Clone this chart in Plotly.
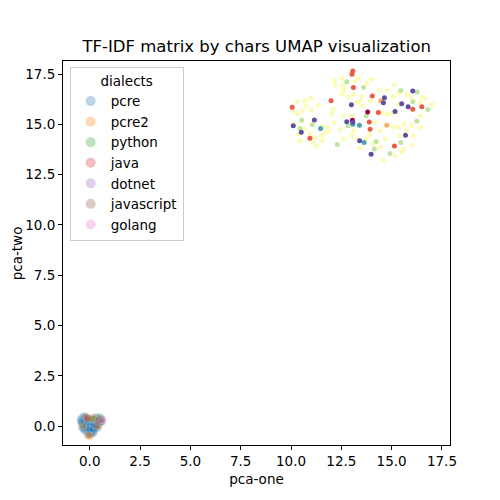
import plotly.graph_objects as go

# ---------------- data ----------------
dialects = ["pcre", "pcre2", "python", "java", "dotnet", "javascript", "golang"]
dialect_colors = ["#1f77b4", "#ff7f0e", "#2ca02c", "#d62728", "#9467bd", "#8c564b", "#e377c2"]

# lower cluster (per dialect)
pcre_x = [-0.45, -0.35, -0.25, -0.4, -0.3, -0.2, -0.15, -0.35, -0.25, -0.4, -0.3, -0.2, -0.1,
          0.0, 0.05, 0.1, 0.0, -0.1, 0.0, 0.1, 0.2, 0.15, 0.25, 0.3, 0.05, -0.05, 0.2,
          0.3, 0.4, 0.35, 0.45, 0.5, 0.55, 0.6, 0.2, 0.1, 0.4, 0.15,
          -0.2, -0.05, 0.05, 0.1, -0.15, 0.3, 0.25, -0.3, 0.0, -0.1,
          -0.4, -0.3, -0.2, -0.1, 0.0, 0.1, 0.2, -0.25, -0.15, -0.05, 0.05, 0.15,
          -0.35, -0.25, -0.1, 0.0, 0.1, -0.2, -0.05, 0.05, 0.15, 0.25, -0.1, 0.0,
          0.35, 0.45, 0.3, -0.3, -0.45, 0.05, -0.15, 0.2]
pcre_y = [0.35, 0.45, 0.5, 0.2, 0.3, 0.35, 0.2, 0.1, 0.0, -0.05, -0.15, -0.1, 0.05,
          0.3, 0.15, 0.0, -0.1, -0.25, -0.3, -0.2, -0.1, 0.1, 0.05, -0.05, -0.4, -0.35, -0.3,
          0.3, 0.4, 0.2, 0.1, 0.3, 0.2, 0.35, 0.25, 0.4, -0.1, -0.35,
          0.45, 0.1, -0.05, 0.2, -0.2, 0.15, -0.2, 0.4, 0.0, 0.3,
          0.15, 0.05, -0.05, -0.15, -0.2, -0.3, -0.2, 0.25, 0.1, 0.2, 0.05, -0.05,
          -0.1, -0.25, -0.3, -0.4, -0.35, 0.0, -0.15, -0.25, -0.15, -0.1, -0.45, -0.2,
          0.05, 0.2, 0.45, 0.2, 0.25, 0.35, 0.35, 0.1]
pcre2_x = [-0.2, 0.1, -0.35, 0.25, -0.05, 0.0, 0.45]
pcre2_y = [0.45, 0.35, 0.0, 0.4, -0.45, -0.5, 0.0]
python_x = [0.2, 0.5]
python_y = [0.35, 0.45]
java_x = [-0.1]
java_y = [0.4]
dotnet_x = [0.4]
dotnet_y = [0.25]
javascript_x = [0.55, 0.45, 0.6, 0.35]
javascript_y = [0.35, 0.3, 0.2, 0.0]
golang_x = [0.65]
golang_y = [0.3]

lower_x = [pcre_x, pcre2_x, python_x, java_x, dotnet_x, javascript_x, golang_x]
lower_y = [pcre_y, pcre2_y, python_y, java_y, dotnet_y, javascript_y, golang_y]

# upper cluster (by colour group)
yellow_x = [12.15, 12.52, 13.36, 13.76, 12.19, 12.60, 13.18, 12.63, 12.52, 12.85, 13.10, 13.51,
            13.26, 13.43, 13.93, 14.39, 14.79, 15.14, 15.09, 15.35, 15.75, 15.95, 16.50, 16.66,
            16.99, 16.42, 15.37, 16.08, 10.30, 10.69, 10.98, 11.36, 10.11, 10.36, 10.58, 10.78,
            11.03, 12.02, 12.10, 12.60, 13.02, 13.56, 14.18, 14.48, 14.76, 15.01, 15.09, 15.34,
            15.62, 16.00, 16.42, 15.75, 16.08, 14.43, 13.89, 13.73, 14.67, 13.10, 12.44, 12.14,
            11.69, 11.85, 11.52, 11.19, 11.11, 11.27, 11.57, 10.36, 10.20, 10.45, 12.60, 13.02,
            13.30, 13.43, 14.06, 14.43, 14.59, 15.17, 15.59, 15.50, 15.39, 16.00, 16.42, 11.57,
            11.85, 10.69, 10.94, 14.01]
yellow_y = [17.16, 17.29, 17.32, 17.03, 16.96, 16.94, 17.16, 16.70, 16.50, 16.36, 16.50, 16.41,
            16.08, 16.17, 16.17, 16.70, 16.71, 16.96, 16.38, 16.56, 16.50, 16.36, 16.36, 16.30,
            16.00, 16.08, 16.00, 16.17, 16.12, 16.17, 16.30, 15.95, 15.67, 15.51, 15.70, 15.92,
            15.70, 15.55, 15.75, 15.42, 15.45, 15.92, 15.09, 15.55, 15.50, 15.59, 14.88, 14.84,
            15.01, 14.93, 14.84, 14.68, 14.43, 14.68, 14.48, 14.27, 14.27, 14.68, 14.76, 15.09,
            14.60, 14.65, 14.43, 14.35, 14.10, 13.93, 14.18, 14.51, 15.01, 14.18, 14.27, 14.43,
            14.27, 13.85, 14.02, 13.85, 13.22, 13.44, 13.77, 13.65, 14.43, 13.98, 15.42, 14.91,
            14.84, 14.76, 14.55, 17.24]
green_x = [12.77, 13.60, 15.45, 16.27, 16.05, 16.80, 10.53, 11.06, 10.45, 12.83, 13.73, 16.25,
           14.23, 15.45, 12.30, 14.14, 14.92]
green_y = [17.12, 16.83, 16.68, 16.61, 16.13, 15.74, 15.21, 14.98, 14.79, 14.93, 15.42, 15.16,
           14.15, 14.10, 14.00, 13.77, 13.55]
teal_x = [11.47, 13.07, 13.40, 13.63]
teal_y = [14.79, 15.00, 14.96, 14.10]
orange_x = [14.46, 14.76]
orange_y = [16.17, 14.96]
red_x = [13.07, 13.03, 10.06, 11.99, 13.10, 14.04, 14.34, 13.89, 13.93, 10.94, 15.14, 16.05, 16.50]
red_y = [17.65, 17.49, 15.85, 16.17, 16.83, 16.41, 15.59, 15.12, 14.76, 14.31, 13.93, 15.75, 15.87]
darkred_x = [13.81, 13.05]
darkred_y = [15.62, 15.20]
purple_x = [13.00, 14.64, 14.59, 15.17, 15.50, 15.82, 16.05, 11.16, 12.77, 13.07, 10.11, 10.51,
            13.41, 15.69, 13.98]
purple_y = [15.97, 16.32, 16.08, 15.64, 16.03, 15.87, 16.66, 15.22, 15.13, 15.10, 14.93, 14.61,
            14.18, 14.46, 13.52]

upper_groups = [
    (yellow_x, yellow_y, "#fcfcb9"),
    (green_x, green_y, "#c0e5a0"),
    (teal_x, teal_y, "#4aa5b1"),
    (orange_x, orange_y, "#fbac60"),
    (red_x, red_y, "#e95c47"),
    (darkred_x, darkred_y, "#9e0142"),
    (purple_x, purple_y, "#5e4fa2"),
]

x_ticks = [0.0, 2.5, 5.0, 7.5, 10.0, 12.5, 15.0, 17.5]
y_ticks = [0.0, 2.5, 5.0, 7.5, 10.0, 12.5, 15.0, 17.5]

# ---------------- figure ----------------
FONT = "DejaVu Sans"
fig = go.Figure()

for name, col, xs, ys in zip(dialects, dialect_colors, lower_x, lower_y):
    fig.add_trace(go.Scatter(
        x=xs, y=ys, mode="markers", name=name,
        marker=dict(size=8, color=col, opacity=0.3, line=dict(color="white", width=0.5)),
    ))

for xs, ys, col in upper_groups:
    fig.add_trace(go.Scatter(
        x=xs, y=ys, mode="markers", showlegend=False,
        marker=dict(size=5, color=col, line=dict(width=0)),
    ))

axis_common = dict(
    showline=True, mirror=True, linecolor="black", linewidth=1,
    ticks="outside", ticklen=4, tickwidth=1, tickcolor="black",
    showgrid=False, zeroline=False, automargin=False,
    tickfont=dict(family=FONT, size=13.5, color="black"),
    tickformat=".1f",
)

# the page body adds an 8px offset, so the figure is 492px and shifted margins
fig.update_layout(
    width=492, height=492,
    paper_bgcolor="white", plot_bgcolor="white",
    margin=dict(l=55, r=50, t=53, b=55, autoexpand=False),
    title=dict(text="TF-IDF matrix by chars UMAP visualization",
               x=0.5055, xanchor="center", y=0.9228, yanchor="middle",
               font=dict(family=FONT, size=16.5, color="black")),
    xaxis=dict(axis_common, range=[-1.33, 17.9], tickvals=x_ticks,
               title=dict(text="pca-one", standoff=6,
                          font=dict(family=FONT, size=13.5, color="black"))),
    yaxis=dict(axis_common, range=[-0.94, 18.15], tickvals=y_ticks),
    annotations=[dict(
        text="pca-two", xref="paper", yref="paper", x=-0.118, y=0.5,
        xanchor="center", yanchor="middle", textangle=-90, showarrow=False,
        borderpad=0,
        font=dict(family=FONT, size=13.5, color="black"),
    )],
    legend=dict(
        x=0.0173, y=0.9836, xanchor="left", yanchor="top",
        bgcolor="rgba(255,255,255,0.8)", bordercolor="#cccccc", borderwidth=1,
        font=dict(family=FONT, size=13.5, color="black"),
        title=dict(text="dialects", side="top center",
                   font=dict(family=FONT, size=13.5, color="black")),
        tracegroupgap=0, itemsizing="constant",
    ),
    showlegend=True,
)

fig.write_html("out.html")
